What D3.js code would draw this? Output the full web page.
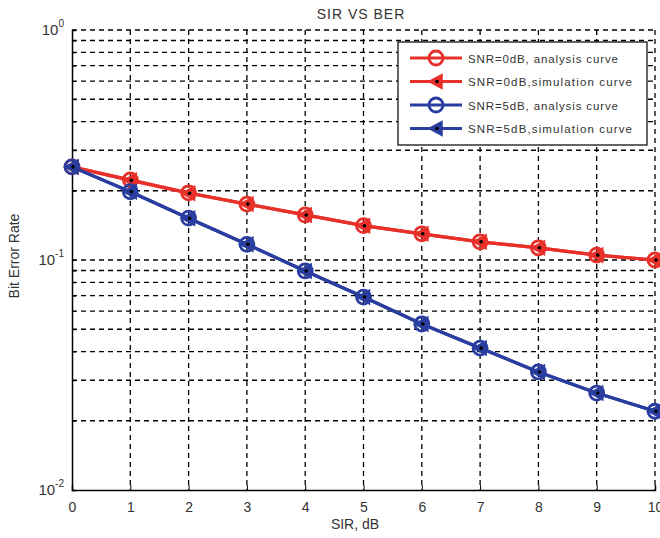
<!DOCTYPE html>
<html>
<head>
<meta charset="utf-8">
<script src="https://cdn.jsdelivr.net/npm/d3@7"></script>
<style>
  body { margin: 0; background: #fff; }
  text { font-family: "Liberation Sans", Arial, sans-serif; fill: #333; }
</style>
</head>
<body>
<svg id="chart" width="660" height="538"></svg>
<script>
// data
var sir = [0, 1, 2, 3, 4, 5, 6, 7, 8, 9, 10];
var ber0Analysis = [0.254, 0.223, 0.196, 0.175, 0.157, 0.141, 0.130, 0.120, 0.113, 0.105, 0.100];
var ber0Simulation = [0.254, 0.222, 0.195, 0.175, 0.157, 0.141, 0.130, 0.120, 0.113, 0.105, 0.100];
var ber5Analysis = [0.254, 0.198, 0.152, 0.117, 0.0896, 0.069, 0.0527, 0.0414, 0.0326, 0.0264, 0.0220];
var ber5Simulation = [0.254, 0.198, 0.152, 0.117, 0.0896, 0.069, 0.0527, 0.0414, 0.0326, 0.0264, 0.0220];
var xTicks = [0, 1, 2, 3, 4, 5, 6, 7, 8, 9, 10];
var yMajor = [1e-2, 1e-1, 1];
var yExp = ["-2", "-1", "0"];
var legendLabels = ["SNR=0dB, analysis curve", "SNR=0dB,simulation curve",
                    "SNR=5dB, analysis curve", "SNR=5dB,simulation curve"];
var red = "#e8302a", blue = "#2a3ea0";

var margin = { top: 30, right: 5, bottom: 48, left: 72 };
var width = 660 - margin.left - margin.right;
var height = 538 - margin.top - margin.bottom;

var svg = d3.select("#chart");
var g = svg.append("g")
    .attr("transform", "translate(" + margin.left + "," + margin.top + ")");

var x = d3.scaleLinear().domain([0, 10]).range([0, 583]);
var y = d3.scaleLog().domain([0.01, 1]).range([height, 0]);

// minor + major log grid
var yGrid = [];
[0.01, 0.1].forEach(function (d) {
    for (var k = 1; k <= 9; k++) yGrid.push(d * k);
});
yGrid.push(1);

g.append("g").selectAll("line.hg")
    .data(yGrid.filter(function (d) { return d > 0.0100001; }))
    .enter().append("line")
    .attr("x1", 0).attr("x2", x(10))
    .attr("y1", function (d) { return y(d); })
    .attr("y2", function (d) { return y(d); })
    .attr("stroke", "#000").attr("stroke-width", 1.3)
    .attr("stroke-dasharray", "5,4");

g.append("g").selectAll("line.vg")
    .data(xTicks.slice(1))
    .enter().append("line")
    .attr("x1", function (d) { return x(d); })
    .attr("x2", function (d) { return x(d); })
    .attr("y1", 0).attr("y2", height)
    .attr("stroke", "#000").attr("stroke-width", 1.3)
    .attr("stroke-dasharray", "5,4");

// axes
var xAxis = g.append("g")
    .attr("transform", "translate(0," + height + ")")
    .call(d3.axisBottom(x).tickValues(xTicks).tickSize(-5).tickPadding(12).tickFormat(d3.format("d")));
xAxis.select(".domain").attr("stroke", "#000").attr("stroke-width", 1.5);
xAxis.selectAll("text").attr("font-size", 14).style("fill", "#333");

var yAxis = g.append("g")
    .call(d3.axisLeft(y).tickValues(yGrid).tickSize(-4).tickFormat(""));
yAxis.select(".domain").attr("stroke", "#000").attr("stroke-width", 1.5);

// 10^n labels
var yl = g.append("g");
yMajor.forEach(function (d, i) {
    var t = yl.append("text")
        .attr("x", -8).attr("y", y(d) + 5)
        .attr("text-anchor", "end").attr("font-size", 15);
    t.append("tspan").text("10");
    t.append("tspan").attr("dy", -8).attr("font-size", 10).text(yExp[i]);
});

// title and labels
svg.append("text").attr("x", 361).attr("y", 19)
    .attr("text-anchor", "middle").attr("font-size", 14)
    .attr("letter-spacing", 1).text("SIR VS BER");
svg.append("text").attr("x", 355).attr("y", 529)
    .attr("text-anchor", "middle").attr("font-size", 14).text("SIR, dB");
svg.append("text")
    .attr("transform", "translate(19,256) rotate(-90)")
    .attr("text-anchor", "middle").attr("font-size", 14).text("Bit Error Rate");

// series
var series = [
    { vals: ber0Analysis, color: red, marker: "circle" },
    { vals: ber0Simulation, color: red, marker: "tri" },
    { vals: ber5Analysis, color: blue, marker: "circle" },
    { vals: ber5Simulation, color: blue, marker: "tri" }
];

var line = d3.line()
    .x(function (d) { return x(d[0]); })
    .y(function (d) { return y(d[1]); });

var triPath = "M-7,0L6,-7L6,7Z";

function drawMarker(sel, s) {
    if (s.marker === "circle") {
        sel.append("circle").attr("r", 7)
            .attr("fill", "none").attr("stroke", s.color).attr("stroke-width", 2.8);
    } else {
        sel.append("path").attr("d", triPath)
            .attr("fill", s.color).attr("stroke", s.color).attr("stroke-width", 1.5);
        sel.append("circle").attr("r", 1.8).attr("cx", 1).attr("fill", "#000");
    }
}

series.forEach(function (s) {
    var pts = sir.map(function (d, i) { return [d, s.vals[i]]; });
    g.append("path").datum(pts).attr("d", line)
        .attr("fill", "none").attr("stroke", s.color).attr("stroke-width", 3.2);
});
series.forEach(function (s) {
    var pts = sir.map(function (d, i) { return [d, s.vals[i]]; });
    g.selectAll(null).data(pts).enter().append("g")
        .attr("transform", function (d) { return "translate(" + x(d[0]) + "," + y(d[1]) + ")"; })
        .each(function () { drawMarker(d3.select(this), s); });
});

// legend
var lg = svg.append("g").attr("transform", "translate(398,42)");
lg.append("rect").attr("width", 249).attr("height", 103)
    .attr("fill", "#fff").attr("stroke", "#000").attr("stroke-width", 1.2);
series.forEach(function (s, i) {
    var row = lg.append("g").attr("transform", "translate(0," + (16 + i * 23.5) + ")");
    row.append("line").attr("x1", 12).attr("x2", 64)
        .attr("stroke", s.color).attr("stroke-width", 3);
    drawMarker(row.append("g").attr("transform", "translate(38,0)"), s);
    row.append("text").attr("x", 70).attr("y", 4.5)
        .attr("font-size", 11.5).attr("textLength", s.marker === "circle" ? 150 : 164)
        .text(legendLabels[i]);
});
</script>
</body>
</html>
